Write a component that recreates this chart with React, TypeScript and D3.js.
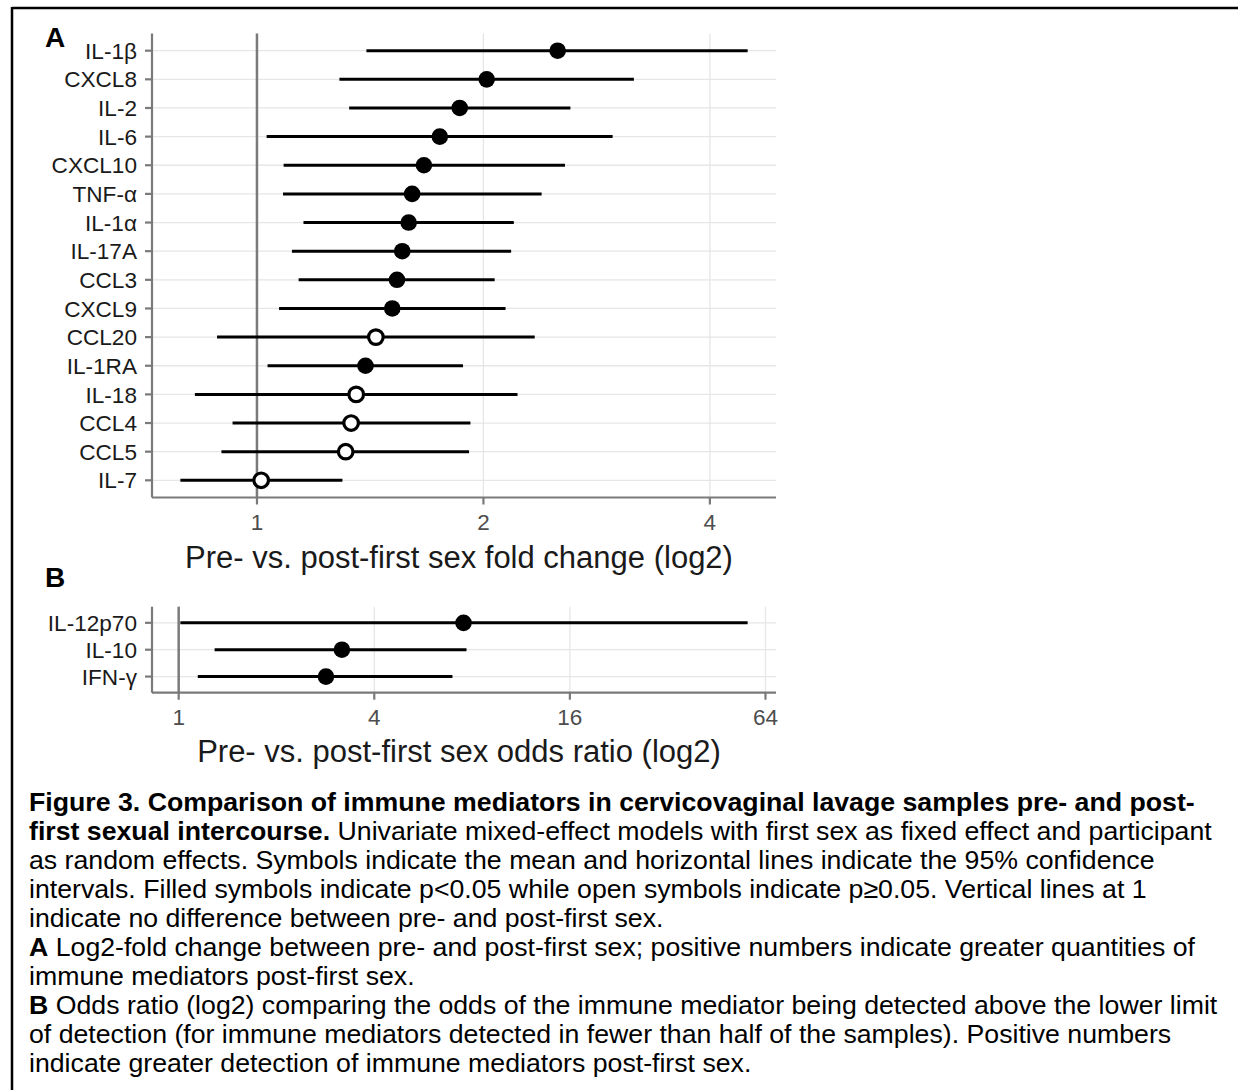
import React from 'react';
import * as d3 from 'd3';

// ---------- DATA ----------
const mediatorsA = ['IL-1β', 'CXCL8', 'IL-2', 'IL-6', 'CXCL10', 'TNF-α', 'IL-1α', 'IL-17A', 'CCL3', 'CXCL9', 'CCL20', 'IL-1RA', 'IL-18', 'CCL4', 'CCL5', 'IL-7'];
const meanA = [2.51, 2.02, 1.86, 1.75, 1.667, 1.608, 1.591, 1.56, 1.535, 1.513, 1.439, 1.394, 1.355, 1.334, 1.312, 1.013];
const lowerA = [1.398, 1.287, 1.326, 1.03, 1.085, 1.083, 1.153, 1.113, 1.136, 1.07, 0.885, 1.033, 0.827, 0.928, 0.897, 0.791];
const upperA = [4.49, 3.17, 2.61, 2.97, 2.567, 2.39, 2.195, 2.177, 2.07, 2.14, 2.34, 1.879, 2.22, 1.922, 1.914, 1.299];
const significantA = [true, true, true, true, true, true, true, true, true, true, false, true, false, false, false, false];
const ticksA = [1, 2, 4];

const mediatorsB = ['IL-12p70', 'IL-10', 'IFN-γ'];
const meanB = [7.53, 3.18, 2.84];
const lowerB = [1.012, 1.29, 1.145];
const upperB = [56.4, 7.69, 6.96];
const significantB = [true, true, true];
const ticksB = [1, 4, 16, 64];

const titleA = 'Pre- vs. post-first sex fold change (log2)';
const titleB = 'Pre- vs. post-first sex odds ratio (log2)';

type Seg = { t: string; b?: boolean };
const captionLines: Seg[][] = [
  [{ t: 'Figure 3. Comparison of immune mediators in cervicovaginal lavage samples pre- and post-', b: true }],
  [{ t: 'first sexual intercourse.', b: true }, { t: ' Univariate mixed-effect models with first sex as fixed effect and participant' }],
  [{ t: 'as random effects. Symbols indicate the mean and horizontal lines indicate the 95% confidence' }],
  [{ t: 'intervals. Filled symbols indicate p<0.05 while open symbols indicate p≥0.05. Vertical lines at 1' }],
  [{ t: 'indicate no difference between pre- and post-first sex.' }],
  [{ t: 'A', b: true }, { t: ' Log2-fold change between pre- and post-first sex; positive numbers indicate greater quantities of' }],
  [{ t: 'immune mediators post-first sex.' }],
  [{ t: 'B', b: true }, { t: ' Odds ratio (log2) comparing the odds of the immune mediator being detected above the lower limit' }],
  [{ t: 'of detection (for immune mediators detected in fewer than half of the samples). Positive numbers' }],
  [{ t: 'indicate greater detection of immune mediators post-first sex.' }],
];

// ---------- STYLE ----------
const FONT = '"Liberation Sans", Arial, Helvetica, sans-serif';
const AXIS_GRAY = '#7a7a7a';
const GRID = '#e6e6e6';

type PanelProps = {
  names: string[];
  mean: number[];
  lower: number[];
  upper: number[];
  sig: boolean[];
  ticks: number[];
  title: string;
  label: string;
  labelY: number;
  top: number;
  bottom: number;
  titleY: number;
};

const LEFT = 152;
const RIGHT = 776;

function Panel(p: PanelProps) {
  const lo = d3.min(p.lower)!;
  const hi = d3.max(p.upper)!;
  const l2lo = Math.log2(lo);
  const l2hi = Math.log2(hi);
  const pad = (l2hi - l2lo) * 0.05;
  const x = d3.scaleLog().base(2).domain([2 ** (l2lo - pad), 2 ** (l2hi + pad)]).range([LEFT, RIGHT]);
  const y = d3.scalePoint<string>().domain(p.names).range([p.top, p.bottom]).padding(0.6);
  const tickLen = 7;
  return (
    <g>
      {/* grid */}
      {p.ticks.map((t) => (
        <line key={'vg' + t} x1={x(t)} x2={x(t)} y1={p.top} y2={p.bottom} stroke={GRID} strokeWidth={1.3} />
      ))}
      {p.names.map((n) => (
        <line key={'hg' + n} x1={LEFT} x2={RIGHT} y1={y(n)} y2={y(n)} stroke={GRID} strokeWidth={1.3} />
      ))}
      {/* reference line at 1 */}
      <line x1={x(1)} x2={x(1)} y1={p.top} y2={p.bottom} stroke={AXIS_GRAY} strokeWidth={2.5} />
      {/* axes */}
      <line x1={LEFT} x2={LEFT} y1={p.top} y2={p.bottom} stroke={AXIS_GRAY} strokeWidth={2.2} />
      <line x1={LEFT} x2={RIGHT} y1={p.bottom} y2={p.bottom} stroke={AXIS_GRAY} strokeWidth={2.2} />
      {p.names.map((n) => (
        <g key={'yt' + n}>
          <line x1={LEFT - tickLen} x2={LEFT} y1={y(n)} y2={y(n)} stroke={AXIS_GRAY} strokeWidth={2.2} />
          <text x={LEFT - tickLen - 8} y={y(n)} dy="0.36em" textAnchor="end" fontSize={22.6} fill="#1a1a1a" fontFamily={FONT}>
            {n}
          </text>
        </g>
      ))}
      {p.ticks.map((t) => (
        <g key={'xt' + t}>
          <line x1={x(t)} x2={x(t)} y1={p.bottom} y2={p.bottom + tickLen} stroke={AXIS_GRAY} strokeWidth={2.2} />
          <text x={x(t)} y={p.bottom + 32.5} textAnchor="middle" fontSize={22.5} fill="#4d4d4d" fontFamily={FONT}>
            {t}
          </text>
        </g>
      ))}
      <text x={(LEFT + RIGHT) / 2 - 5} y={p.titleY} textAnchor="middle" fontSize={31} fill="#1a1a1a" fontFamily={FONT}>
        {p.title}
      </text>
      {/* intervals */}
      {p.names.map((n, i) => (
        <line key={'ci' + n} x1={x(p.lower[i])} x2={x(p.upper[i])} y1={y(n)} y2={y(n)} stroke="#000" strokeWidth={3} />
      ))}
      {/* points */}
      {p.names.map((n, i) =>
        p.sig[i] ? (
          <circle key={'pt' + n} cx={x(p.mean[i])} cy={y(n)} r={8.3} fill="#000" />
        ) : (
          <circle key={'pt' + n} cx={x(p.mean[i])} cy={y(n)} r={7.3} fill="#fff" stroke="#000" strokeWidth={3.2} />
        )
      )}
      <text x={45} y={p.labelY} fontSize={28} fontWeight="bold" fill="#000" fontFamily={FONT}>
        {p.label}
      </text>
    </g>
  );
}

export default function App() {
  const capX = 29;
  const capY0 = 811;
  const capStep = 29;
  return (
    <svg
      width={1238}
      height={1090}
      style={{ position: 'absolute', left: 0, top: 0, background: '#fff' }}
      xmlns="http://www.w3.org/2000/svg"
    >
      <rect x={0} y={0} width={1238} height={1090} fill="#fff" />
      <line x1={12} x2={12} y1={7} y2={1090} stroke="#000" strokeWidth={2.5} />
      <line x1={12} x2={1238} y1={8} y2={8} stroke="#000" strokeWidth={2.5} />
      <Panel
        names={mediatorsA}
        mean={meanA}
        lower={lowerA}
        upper={upperA}
        sig={significantA}
        ticks={ticksA}
        title={titleA}
        label="A"
        labelY={47}
        top={33.5}
        bottom={497.5}
        titleY={568}
      />
      <Panel
        names={mediatorsB}
        mean={meanB}
        lower={lowerB}
        upper={upperB}
        sig={significantB}
        ticks={ticksB}
        title={titleB}
        label="B"
        labelY={587}
        top={606.7}
        bottom={692.7}
        titleY={762}
      />
      {captionLines.map((segs, i) => (
        <text key={'cap' + i} x={capX} y={capY0 + i * capStep} fontSize={26.7} fill="#000" fontFamily={FONT}>
          {segs.map((s, j) => (
            <tspan key={j} fontWeight={s.b ? 'bold' : 'normal'}>
              {s.t}
            </tspan>
          ))}
        </text>
      ))}
    </svg>
  );
}
